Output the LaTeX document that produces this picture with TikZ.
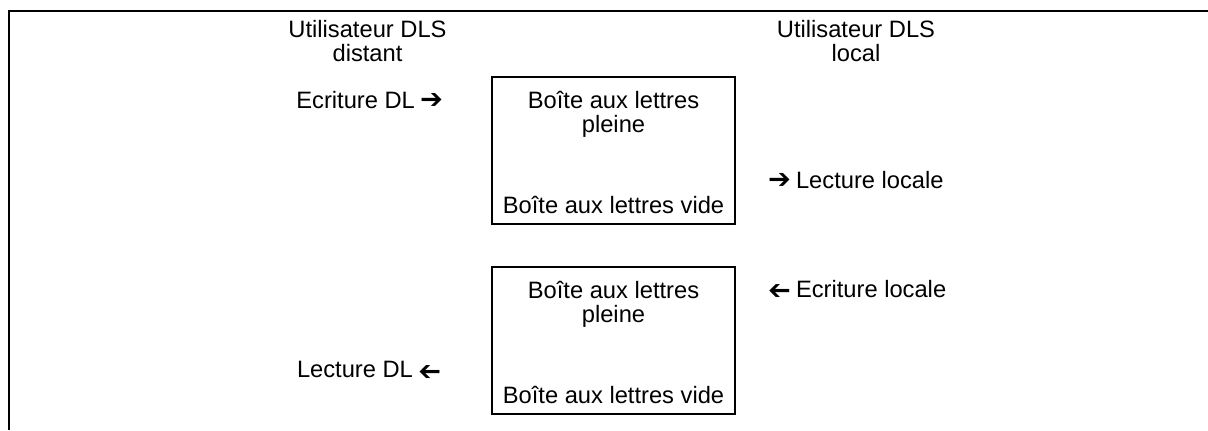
\documentclass[tikz,border=0pt]{standalone}
\usepackage{fontspec}
\usepackage{graphicx}
\setmainfont{Liberation Sans}
\newfontfamily\arrowfont{DejaVu Sans}
\usetikzlibrary{positioning}
\definecolor{ink}{HTML}{000000}
\newcommand{\rarr}{\raisebox{-.3pt}{\scalebox{1.15}{\arrowfont ➔}}}
\newcommand{\larr}{\raisebox{-.3pt}{\rotatebox[origin=c]{180}{\scalebox{1.15}{\arrowfont ➔}}}}

\begin{document}
\begin{tikzpicture}[x=.5pt,y=-.5pt,line width=1pt,every node/.style={font=\fontsize{11.85}{12}\selectfont,text=ink,inner sep=0pt},head/.style={align=center},mbox/.style={draw=ink,line width=1pt,minimum width=121.5pt,minimum height=73.5pt},label/.style={align=center}]
\path[use as bounding box] (0,0) rectangle (1208,430);

% cadre
\draw[ink] (1208,10.5) -- (9,10.5) -- (9,430);

% utilisateurs
\node[head] (distant) at (367.5,41.5) {Utilisateur DLS\\distant};
\node[head] (local) at (856,41.5) {Utilisateur DLS\\local};

% boites aux lettres
\node[mbox] (bal1) at (613.5,150.5) {};
\node[label,below=7pt of bal1.north] (plein1) {Boîte aux lettres\\pleine};
\node[label,above=5pt of bal1.south] (vide1) {Boîte aux lettres vide};
\node[mbox] (bal2) at (613.5,340.5) {};
\node[label,below=7pt of bal2.north] (plein2) {Boîte aux lettres\\pleine};
\node[label,above=5pt of bal2.south] (vide2) {Boîte aux lettres vide};

% operations
\node[anchor=east] (ecrdl) at (444,100) {Ecriture DL\hspace{.22em}\rarr};
\node[anchor=east] (lecdl) at (442,370) {Lecture DL\hspace{.22em}\larr};
\node[anchor=west] (leclocal) at (767,180) {\rarr\hspace{.22em}Lecture locale};
\node[anchor=west] (ecrlocal) at (767,289) {\larr\hspace{.22em}Ecriture locale};

\end{tikzpicture}
\end{document}
